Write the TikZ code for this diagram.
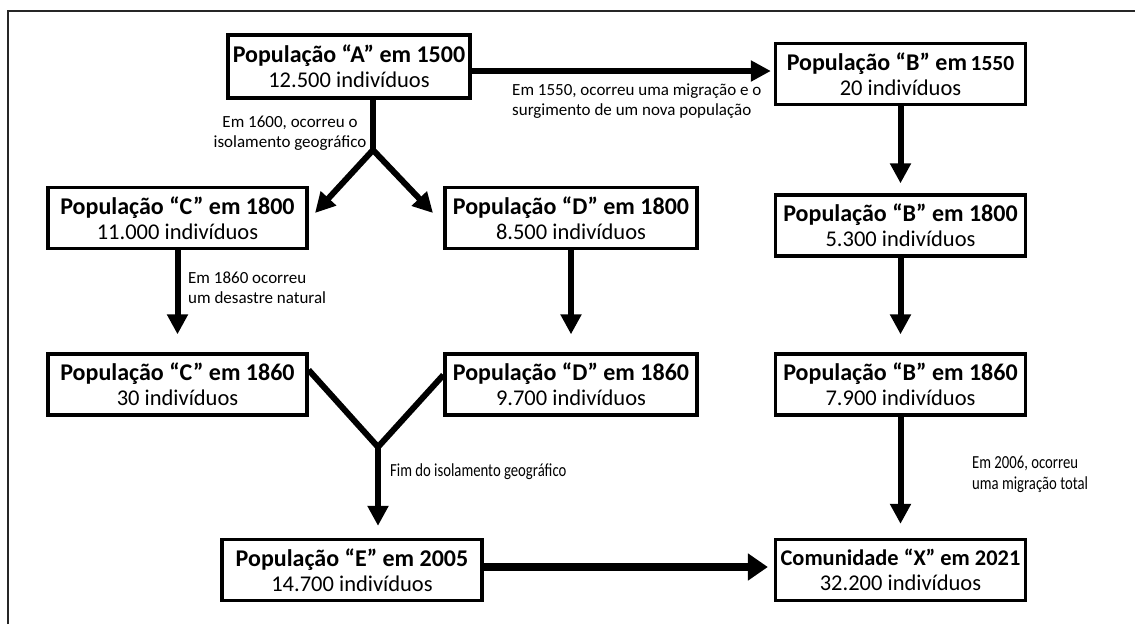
\documentclass[tikz,border=0pt]{standalone}
\usepackage{fontspec}
\setmainfont{Carlito}
\newfontfamily\narrowfont[FakeStretch=0.8]{Carlito}
\usetikzlibrary{arrows.meta}

\tikzset{
  popbox/.style={draw, line width=3.3pt, minimum width=250pt, minimum height=61pt,
    align=center, inner sep=0pt, font=\fontsize{22.5}{25}\selectfont},
  seta/.style={line width=6pt, -{Triangle[length=20pt,width=20pt]}},
  haste/.style={line width=6pt, line join=miter},
  nota/.style={inner sep=0pt, font=\fontsize{17}{20.5}\selectfont},
  notaestreita/.style={inner sep=0pt, font=\narrowfont\fontsize{18.4}{21}\selectfont},
}
\newcommand{\titulo}[1]{{\fontsize{24}{25}\selectfont\bfseries #1}}

\begin{document}
\begin{tikzpicture}[x=1pt, y=-1pt]
  \useasboundingbox (0,0) rectangle (1135,624);
  % moldura (so aparecem os lados de cima e da esquerda)
  \draw[line width=2pt, black!85] (8,624) -- (8,11) -- (1135,11);

  % populacoes
  \node[popbox, minimum width=242pt, minimum height=63pt] (a) at (349,66.5) {\titulo{População “A” em 1500}\\12.500 indivíduos};
  \node[popbox] (b1550) at (900.5,74) {\titulo{População “B” em{\fontsize{21.5}{25}\selectfont\,1550}}\\20 indivíduos};
  \node[popbox, minimum width=259pt] (c1800) at (177.5,218) {\titulo{População “C” em 1800}\\11.000 indivíduos};
  \node[popbox, minimum width=252pt] (d1800) at (571,218) {\titulo{População “D” em 1800}\\8.500 indivíduos};
  \node[popbox] (b1800) at (900.5,225.5) {\titulo{População “B” em 1800}\\5.300 indivíduos};
  \node[popbox, minimum width=259pt] (c1860) at (177.5,384.5) {\titulo{População “C” em 1860}\\30 indivíduos};
  \node[popbox, minimum width=252pt] (d1860) at (571,384.5) {\titulo{População “D” em 1860}\\9.700 indivíduos};
  \node[popbox] (b1860) at (900.5,384.5) {\titulo{População “B” em 1860}\\7.900 indivíduos};
  \node[popbox, minimum width=260pt] (e2005) at (352,570) {\titulo{População “E” em 2005}\\14.700 indivíduos};
  \node[popbox] (x2021) at (900.5,570) {{\fontsize{22.4}{25}\selectfont\bfseries Comunidade “X” em 2021}\\32.200 indivíduos};

  % pontos de divisao e de juncao
  \coordinate (splitA) at (373,150);
  \coordinate (tipC) at (315,213);
  \coordinate (tipD) at (433,213);
  \coordinate (mergeE) at (378,447);

  % A -> B (migracao)
  \draw[seta, shorten >=3pt] (a.east |- 0,71) -- (b1550.west |- 0,71);
  \node[nota, anchor=west, align=left] (lblAB) at (512,101)
    {Em 1550, ocorreu uma migração e o\\surgimento de um nova população};

  % A -> C e D (isolamento)
  \draw[haste] (a.south -| splitA) -- (splitA);
  \draw[haste, {Triangle[length=20pt,width=20pt]}-{Triangle[length=20pt,width=20pt]}]
    (tipC) -- (splitA) -- (tipD);
  \node[nota, align=center] (lblA) at (290,133) {Em 1600, ocorreu o\\isolamento geográfico};

  % C e D ate 1860
  \draw[seta, shorten >=18pt] (c1800) -- (c1860);
  \node[nota, anchor=west, align=left] (lblC) at (188,288) {Em 1860 ocorreu\\um desastre natural};
  \draw[seta, shorten >=18pt] (d1800) -- (d1860);

  % B ao longo do tempo
  \draw[seta, shorten >=10pt] (b1550) -- (b1800);
  \draw[seta, shorten >=18pt] (b1800) -- (b1860);
  \draw[seta, shorten >=14pt] (b1860) -- (x2021);
  \node[notaestreita, anchor=west, align=left] (lblB) at (972,474) {Em 2006, ocorreu\\uma migração total};

  % fim do isolamento: C + D -> E
  \draw[haste] (c1860.east |- 0,370) -- (mergeE) -- (d1860.west |- 0,375);
  \draw[seta, shorten >=12pt] (mergeE) -- (mergeE |- e2005.north);
  \node[notaestreita, anchor=west] (lblE) at (390,472) {Fim do isolamento geográfico};

  % E -> X
  \draw[line width=8pt, -{Triangle[length=20pt,width=26pt]}, shorten >=6pt] (e2005.east |- 0,567) -- (x2021.west |- 0,567);
\end{tikzpicture}
\end{document}
